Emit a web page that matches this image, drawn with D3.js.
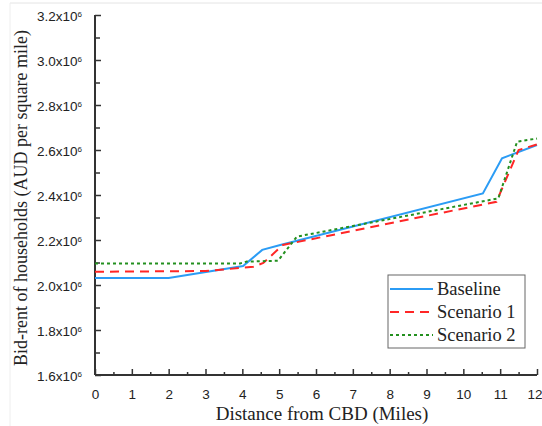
<!DOCTYPE html>
<meta charset="utf-8">
<html>
<head>
<script src="https://d3js.org/d3.v7.min.js"></script>
<style>
  body { margin: 0; background: #fff; }
</style>
</head>
<body>
<div id="chart"></div>
<script>

// distance (miles) and bid-rent (x10^6 AUD)
var baselineX = [0, 2, 4.02, 4.54, 5.03, 10.53, 11.05, 12];
var baselineY = [2.031, 2.031, 2.084, 2.156, 2.178, 2.407, 2.563, 2.622];
var scen1X = [0, 3, 4.3, 4.57, 5.1, 10.9, 11.5, 12];
var scen1Y = [2.059, 2.062, 2.081, 2.098, 2.178, 2.37, 2.6, 2.625];
var scen2X = [0, 3.94, 4.12, 4.97, 5.48, 10.95, 11.46, 12];
var scen2Y = [2.096, 2.096, 2.104, 2.108, 2.215, 2.385, 2.637, 2.651];

var xTicks = [0, 1, 2, 3, 4, 5, 6, 7, 8, 9, 10, 11, 12];
var yTicks = [1.6, 1.8, 2.0, 2.2, 2.4, 2.6, 2.8, 3.0, 3.2];
var seriesNames = ["Baseline", "Scenario 1", "Scenario 2"];

var W = 542, H = 426;
var margin = {top: 15, right: 5, bottom: 51, left: 95};
var width = 537 - margin.left,
    height = 375 - margin.top;

var svg = d3.select("#chart").append("svg")
    .attr("width", W)
    .attr("height", H);

// faint border of the scanned figure
svg.append("line").attr("x1", 10).attr("x2", W).attr("y1", 3).attr("y2", 3)
  .attr("stroke", "#e4e4e4").attr("stroke-width", 1);
svg.append("line").attr("x1", 10).attr("x2", 10).attr("y1", 3).attr("y2", H)
  .attr("stroke", "#eeeeee").attr("stroke-width", 1);

var g = svg.append("g")
    .attr("transform", "translate(" + margin.left + "," + margin.top + ")");

var x = d3.scaleLinear().domain([0, 12]).range([0, width]);
var y = d3.scaleLinear().domain([1.6, 3.2]).range([height, 0]);

var axisColor = "#333";
var serif = "'Liberation Serif', 'Times New Roman', serif";

// minor ticks
g.append("g")
  .attr("transform", "translate(0," + height + ")")
  .call(d3.axisBottom(x).tickValues(d3.range(0.5, 12, 1)).tickSize(-3).tickFormat(""))
  .call(function(s) { s.select(".domain").remove(); s.selectAll("line").attr("stroke", axisColor).attr("stroke-width", 1.5); });
g.append("g")
  .call(d3.axisLeft(y).tickValues(d3.range(1.7, 3.2, 0.2)).tickSize(-5).tickFormat(""))
  .call(function(s) { s.select(".domain").remove(); s.selectAll("line").attr("stroke", axisColor).attr("stroke-width", 1.5); });

// x axis
var xAxis = g.append("g")
  .attr("transform", "translate(0," + height + ")")
  .call(d3.axisBottom(x).tickValues(xTicks).tickSize(-6).tickPadding(14));
xAxis.select(".domain").attr("stroke", axisColor).attr("stroke-width", 2).attr("d", "M0,0H" + width);
xAxis.selectAll("line").attr("stroke", axisColor).attr("stroke-width", 1.5);
xAxis.selectAll("text")
  .attr("fill", "#222")
  .style("font-family", "'Liberation Sans', Arial, sans-serif")
  .style("font-size", "13.5px");
// last label sits on the right edge, keep it inside the page
xAxis.selectAll(".tick").filter(function(d) { return d === 12; })
  .select("text").attr("text-anchor", "end").attr("x", 5);

// y axis
var yAxis = g.append("g")
  .call(d3.axisLeft(y).tickValues(yTicks).tickSize(-6).tickPadding(13).tickFormat(""));
yAxis.select(".domain").attr("stroke", axisColor).attr("stroke-width", 2).attr("d", "M0," + height + "V0");
yAxis.selectAll("line").attr("stroke", axisColor).attr("stroke-width", 1.5);
yAxis.selectAll("text")
  .attr("fill", "#222")
  .attr("dy", "0.4em")
  .style("font-family", "'Liberation Sans', Arial, sans-serif")
  .style("font-size", "13.5px")
  .each(function(d) {
    var t = d3.select(this);
    t.append("tspan").text(d.toFixed(1) + "x10");
    t.append("tspan").text("6").attr("dy", "-0.55em").style("font-size", "8px");
  });

// lines
var line = d3.line()
  .x(function(d) { return x(d[0]); })
  .y(function(d) { return y(d[1]); });

var series = [
  {name: seriesNames[0], pts: d3.zip(baselineX, baselineY), color: "#2b9cf5", dash: null},
  {name: seriesNames[1], pts: d3.zip(scen1X, scen1Y), color: "#ff2626", dash: "9,6"},
  {name: seriesNames[2], pts: d3.zip(scen2X, scen2Y), color: "#23901f", dash: "3,3"}
];

g.selectAll("path.series")
  .data(series)
  .enter()
  .append("path")
  .attr("class", "series")
  .attr("d", function(d) { return line(d.pts); })
  .attr("fill", "none")
  .attr("stroke", function(d) { return d.color; })
  .attr("stroke-width", 2)
  .attr("stroke-dasharray", function(d) { return d.dash; });

// legend
var legend = svg.append("g").attr("transform", "translate(388,275)");
legend.append("rect")
  .attr("width", 137).attr("height", 73)
  .attr("fill", "#fff").attr("stroke", "#666").attr("stroke-width", 1);
var item = legend.selectAll("g.item")
  .data(series)
  .enter()
  .append("g")
  .attr("class", "item")
  .attr("transform", function(d, i) { return "translate(0," + (14 + i * 23) + ")"; });
item.append("line")
  .attr("x1", 2).attr("x2", 45)
  .attr("stroke", function(d) { return d.color; })
  .attr("stroke-width", 2)
  .attr("stroke-dasharray", function(d) { return d.dash; });
item.append("text")
  .attr("x", 49).attr("dy", "0.33em")
  .text(function(d) { return d.name; })
  .style("font-family", serif)
  .style("font-size", "18.5px")
  .attr("fill", "#222");

// axis titles
svg.append("text")
  .attr("x", 322).attr("y", 420)
  .attr("text-anchor", "middle")
  .style("font-family", serif)
  .style("font-size", "19px")
  .attr("fill", "#222")
  .text("Distance from CBD (Miles)");

svg.append("text")
  .attr("transform", "translate(27,198) rotate(-90)")
  .attr("text-anchor", "middle")
  .style("font-family", serif)
  .style("font-size", "18px")
  .attr("fill", "#222")
  .text("Bid-rent of households (AUD per square mile)");

</script>
</body>
</html>
